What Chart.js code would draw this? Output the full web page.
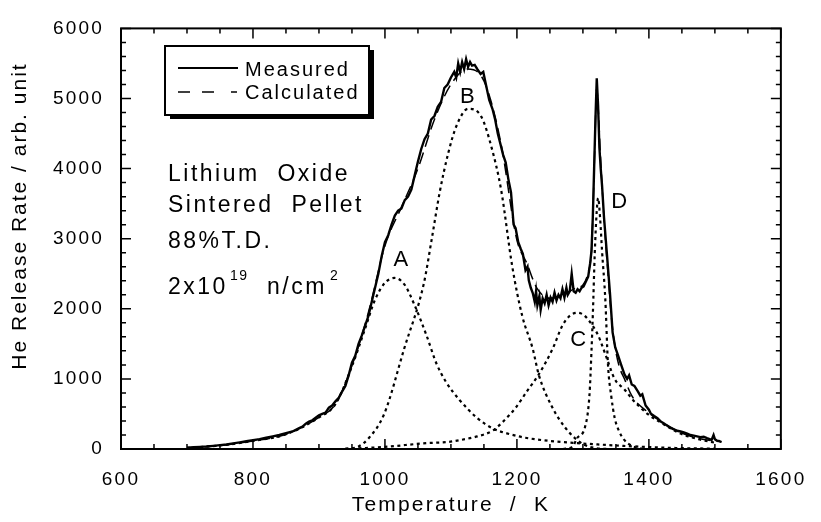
<!DOCTYPE html>
<html>
<head>
<meta charset="utf-8">
<script src="https://cdn.jsdelivr.net/npm/chart.js@4.4.1/dist/chart.umd.min.js"></script>
<style>
  html, body { margin: 0; padding: 0; background: #fff; }
</style>
</head>
<body>
<canvas id="graph" width="821" height="522"></canvas>
<script>
// measured He release (solid)
const measuredT = [700,710,720,730,740,750,760,770,780,790,800,810,820,830,840,850,860,870,875,880,885,890,895,900,905,910,915,920,925,930,935,940,945,950,955,960,965,970,975,980,985,990,995,1000,1005,1010,1015,1020,1025,1030,1035,1040,1045,1050,1055,1060,1065,1070,1075,1080,1085,1090,1095,1100,1105,1108,1111,1114,1117,1120,1123,1126,1129,1132,1136,1140,1145,1149,1153,1158,1163,1167,1171,1175,1179,1183,1187,1191,1195,1198,1202,1206,1209,1213,1216,1218,1221,1224,1227,1229,1231,1234,1236,1239,1242,1245,1248,1251,1254,1257,1260,1263,1266,1269,1272,1275,1277,1280,1283,1286,1289,1292,1295,1298,1301,1304,1308,1311,1313,1315,1317,1319,1321,1323,1325,1327,1329,1332,1336,1341,1345,1349,1353,1358,1363,1367,1370,1374,1378,1383,1387,1390,1395,1400,1403,1408,1413,1418,1423,1428,1433,1438,1443,1448,1453,1458,1463,1468,1473,1478,1483,1488,1492,1495,1498,1500,1503,1506,1510];
const measuredV = [20,25,30,35,45,55,65,80,95,110,125,140,160,180,200,225,250,300,320,360,390,410,445,480,500,520,590,620,680,730,820,900,1050,1230,1330,1500,1620,1760,1900,2100,2300,2500,2750,2950,3050,3200,3330,3400,3430,3550,3600,3700,3900,4100,4280,4420,4500,4700,4750,4880,4950,5150,5200,5300,5380,5300,5500,5380,5520,5420,5560,5450,5520,5470,5480,5420,5350,5380,5200,4980,4850,4700,4500,4350,4200,4085,3850,3665,3200,3150,2950,2850,2783,2550,2600,2405,2300,2224,2100,2250,2050,2180,1986,2150,2080,2200,2050,2160,2100,2230,2120,2200,2150,2280,2160,2300,2200,2250,2500,2250,2230,2280,2250,2300,2320,2380,2460,2650,2825,3300,4000,4700,5287,4900,4300,4000,3760,3300,2825,2224,1664,1450,1343,1200,1063,1000,1050,920,900,825,760,780,620,560,503,470,440,390,364,330,300,280,260,250,238,220,200,190,180,170,175,154,140,130,200,140,120,115,100];

// calculated sum (dashed)
const calcT = [700,750,800,850,900,925,950,975,1000,1025,1050,1075,1100,1125,1150,1175,1200,1215,1230,1250,1270,1290,1300,1308,1313,1315,1318,1321,1323,1326,1329,1334,1338,1343,1348,1355,1363,1374,1398,1423,1448,1475,1510];
const calcV = [15,50,115,210,450,640,1190,1950,2900,3450,4000,4700,5200,5420,5250,4400,2980,2650,2300,2150,2200,2300,2340,2520,2825,3300,4300,5150,4900,4300,3760,3000,2500,1900,1500,1180,1000,760,530,370,235,150,100];

// component peaks (dotted)
const peakAT = [700,750,800,850,900,925,950,970,985,1000,1015,1030,1045,1063,1078,1093,1113,1140,1164,1190,1213,1250,1290,1350,1400,1450,1500];
const peakAV = [15,50,115,210,450,640,1180,1720,2130,2370,2440,2340,2050,1620,1220,950,700,440,290,210,160,115,85,50,28,12,5];
const peakBT = [940,958,975,999,1029,1059,1071,1083,1096,1108,1126,1146,1161,1176,1193,1208,1224,1233,1254,1273,1288,1303,1320,1340];
const peakBV = [5,28,150,503,1427,2364,3000,3664,4224,4600,4853,4741,4322,3700,2600,1900,1427,1063,587,308,154,56,12,0];
const peakCT = [950,1000,1063,1093,1113,1140,1164,1180,1198,1215,1233,1254,1269,1280,1291,1300,1308,1323,1336,1348,1363,1374,1398,1423,1448,1475,1500];
const peakCV = [5,30,84,98,126,180,266,400,587,820,1063,1427,1762,1900,1944,1920,1846,1622,1300,1000,850,720,500,350,220,140,90];
const peakDT = [1270,1285,1291,1303,1310,1313,1315,1318,1321,1323,1326,1329,1334,1338,1343,1348,1355,1363,1375,1390];
const peakDV = [0,40,154,308,780,1400,1900,2800,3400,3580,3300,2825,2126,1203,750,450,250,126,40,5];

const peakLabels = [
  { text: "A", t: 1024, v: 2700 },
  { text: "B", t: 1125, v: 5020 },
  { text: "C", t: 1293, v: 1560 },
  { text: "D", t: 1355, v: 3530 }
];

const FONT = '"Liberation Sans", Arial, Helvetica, sans-serif';

function pts(ts, vs) {
  return ts.map((t, i) => ({ x: t, y: vs[i] }));
}

function dotted(ts, vs) {
  return {
    data: pts(ts, vs),
    borderColor: "#000",
    borderWidth: 2.2,
    borderDash: [3, 3.5],
    pointRadius: 0,
    cubicInterpolationMode: "monotone",
    fill: false
  };
}

const frame = {
  id: "frame",
  beforeDraw(chart) {
    chart.ctx.letterSpacing = "2.2px";
  },
  afterDraw(chart) {
    const { ctx, chartArea: a, scales: { x, y } } = chart;
    ctx.save();
    ctx.strokeStyle = "#000";
    ctx.fillStyle = "#000";

    // inward ticks on all sides
    ctx.lineWidth = 1.5;
    ctx.beginPath();
    for (let t = 600; t <= 1600; t += 50) {
      const px = x.getPixelForValue(t);
      const len = t % 200 === 0 ? 10 : 5;
      ctx.moveTo(px, a.bottom); ctx.lineTo(px, a.bottom - len);
      ctx.moveTo(px, a.top); ctx.lineTo(px, a.top + len);
    }
    for (let v = 0; v <= 6000; v += 200) {
      const py = y.getPixelForValue(v);
      const len = v % 1000 === 0 ? 10 : 5;
      ctx.moveTo(a.left, py); ctx.lineTo(a.left + len, py);
      ctx.moveTo(a.right, py); ctx.lineTo(a.right - len, py);
    }
    ctx.stroke();

    ctx.lineWidth = 2;
    ctx.strokeRect(a.left, a.top, a.right - a.left, a.bottom - a.top);

    // y axis title
    ctx.save();
    ctx.letterSpacing = "2px";
    ctx.font = "21px " + FONT;
    ctx.textAlign = "center";
    ctx.textBaseline = "middle";
    ctx.translate(20, 216);
    ctx.rotate(-Math.PI / 2);
    ctx.fillText("He Release Rate / arb. unit", 0, 0);
    ctx.restore();

    // legend box with shadow
    ctx.fillRect(170, 50, 204, 69);
    ctx.fillStyle = "#fff";
    ctx.fillRect(165, 46, 204, 69);
    ctx.fillStyle = "#000";
    ctx.lineWidth = 2;
    ctx.strokeRect(165, 46, 204, 69);
    ctx.beginPath();
    ctx.moveTo(178, 68); ctx.lineTo(238, 68);
    ctx.stroke();
    ctx.lineWidth = 1.6;
    ctx.beginPath();
    ctx.moveTo(178, 92); ctx.lineTo(190, 92);
    ctx.moveTo(202, 92); ctx.lineTo(214, 92);
    ctx.moveTo(231, 92); ctx.lineTo(237, 92);
    ctx.stroke();
    ctx.letterSpacing = "2px";
    ctx.font = "20px " + FONT;
    ctx.textAlign = "left";
    ctx.textBaseline = "middle";
    ctx.fillText("Measured", 245, 70);
    ctx.fillText("Calculated", 245, 93);

    // sample description
    ctx.letterSpacing = "2.5px";
    ctx.font = "23px " + FONT;
    ctx.fillText("Lithium  Oxide", 168, 175);
    ctx.fillText("Sintered  Pellet", 168, 206);
    ctx.fillText("88%T.D.", 168, 242);
    ctx.fillText("2x10", 168, 288);
    ctx.fillText("n/cm", 267, 288);
    ctx.font = "14px " + FONT;
    ctx.letterSpacing = "1.5px";
    ctx.fillText("19", 230, 276);
    ctx.fillText("2", 330, 276);

    // peak letters
    ctx.letterSpacing = "0px";
    ctx.font = "22px " + FONT;
    ctx.textAlign = "center";
    peakLabels.forEach(l => {
      ctx.fillText(l.text, x.getPixelForValue(l.t), y.getPixelForValue(l.v));
    });
    ctx.restore();
  }
};

const tickFont = { family: FONT, size: 19 };
const plain = v => String(v);

new Chart(document.getElementById("graph").getContext("2d"), {
  type: "line",
  data: {
    datasets: [
      dotted(peakAT, peakAV),
      dotted(peakBT, peakBV),
      dotted(peakCT, peakCV),
      dotted(peakDT, peakDV),
      {
        data: pts(calcT, calcV),
        borderColor: "#000",
        borderWidth: 1.5,
        borderDash: [12, 6],
        pointRadius: 0,
        cubicInterpolationMode: "monotone",
        fill: false
      },
      {
        data: pts(measuredT, measuredV),
        borderColor: "#000",
        borderWidth: 2.4,
        pointRadius: 0,
        tension: 0,
        fill: false
      }
    ]
  },
  options: {
    responsive: false,
    animation: false,
    layout: { padding: { left: 0, right: 33, top: 20, bottom: 0 } },
    plugins: { legend: { display: false }, tooltip: { enabled: false } },
    scales: {
      x: {
        type: "linear",
        min: 600,
        max: 1600,
        ticks: { stepSize: 200, padding: 19, font: tickFont, color: "#000", autoSkip: false, maxRotation: 0, callback: plain },
        grid: { display: false, drawTicks: false },
        border: { display: false },
        title: {
          display: true,
          text: "Temperature  /  K",
          color: "#000",
          font: { family: FONT, size: 21 },
          padding: { top: 0, bottom: 4 }
        },
        afterFit(s) { s.height = 73; }
      },
      y: {
        min: 0,
        max: 6000,
        ticks: { stepSize: 1000, padding: 17, font: tickFont, color: "#000", callback: plain },
        grid: { display: false, drawTicks: false },
        border: { display: false },
        afterFit(s) { s.width = 121; }
      }
    }
  },
  plugins: [frame]
});
</script>
</body>
</html>
